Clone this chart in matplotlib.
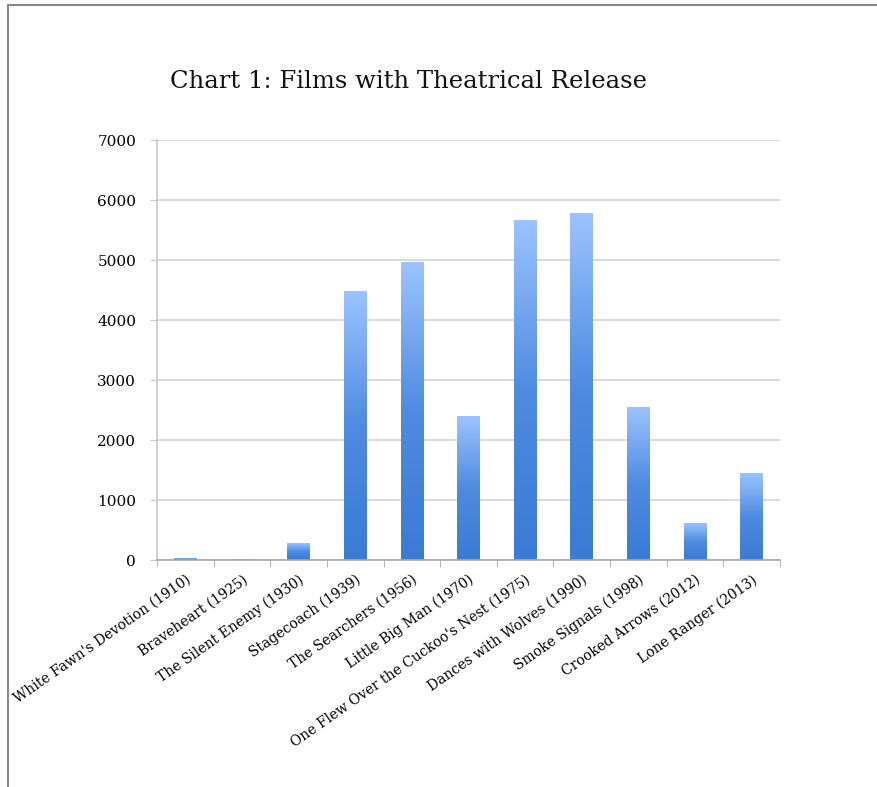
import numpy as np
import matplotlib.pyplot as plt
from matplotlib.colors import LinearSegmentedColormap
from matplotlib.lines import Line2D

films = ["White Fawn's Devotion (1910)", "Braveheart (1925)", "The Silent Enemy (1930)",
         "Stagecoach (1939)", "The Searchers (1956)", "Little Big Man (1970)",
         "One Flew Over the Cuckoo's Nest (1975)", "Dances with Wolves (1990)",
         "Smoke Signals (1998)", "Crooked Arrows (2012)", "Lone Ranger (2013)"]
releases = [18, 12, 283, 4470, 4955, 2385, 5665, 5780, 2535, 615, 1450]
yticks = [0, 1000, 2000, 3000, 4000, 5000, 6000, 7000]

plt.rcParams['font.family'] = ['DejaVu Serif']

fig = plt.figure(figsize=(8.77, 7.87), dpi=100)
ax = fig.add_axes([157 / 877, 1 - 560 / 787, 623 / 877, 420 / 787])

# light at the top of each bar, darker at the base
grad = LinearSegmentedColormap.from_list('bar', ['#3a7bd5', '#4f8be0', '#9bc3ff'])
gimg = np.linspace(0, 1, 256).reshape(-1, 1)
width = 0.4
xs = np.arange(len(films))
for x, v in zip(xs, releases):
    ax.imshow(gimg, cmap=grad, origin='lower', aspect='auto',
              extent=[x - width / 2, x + width / 2, 0, v], zorder=2)

ax.set_xlim(-0.5, len(films) - 0.5)
ax.set_ylim(0, 7000)
ax.set_yticks(yticks)
ax.set_yticklabels([str(t) for t in yticks], fontsize=11)
ax.yaxis.grid(True, color='#d4d4d4', linewidth=1.2)
ax.set_axisbelow(True)

ax.set_xticks(xs)
ax.set_xticklabels(films, fontsize=10, rotation=35, ha='right', rotation_mode='anchor')
ax.set_xticks(np.arange(len(films) + 1) - 0.5, minor=True)
ax.tick_params(axis='x', which='major', length=0, pad=9)
ax.tick_params(axis='x', which='minor', length=5, color='#a8a8a8', direction='out')
ax.tick_params(axis='y', length=5, color='#c8c8c8', pad=10)

for s in ['top', 'right']:
    ax.spines[s].set_visible(False)
ax.spines['left'].set_color('#c8c8c8')
ax.spines['bottom'].set_color('#a8a8a8')
ax.spines['left'].set_linewidth(1.2)
ax.spines['bottom'].set_linewidth(1.2)

fig.text(408 / 877, 1 - 82 / 787, "Chart 1: Films with Theatrical Release",
         fontsize=17.5, ha='center', va='center', color='#111111')

# outer frame (left and top edges)
fig.add_artist(Line2D([8 / 877, 8 / 877], [0, 1 - 5 / 787], color='#888888', lw=1.5))
fig.add_artist(Line2D([8 / 877, 1], [1 - 5 / 787, 1 - 5 / 787], color='#888888', lw=1.5))

fig.savefig('out.png', dpi=100)
